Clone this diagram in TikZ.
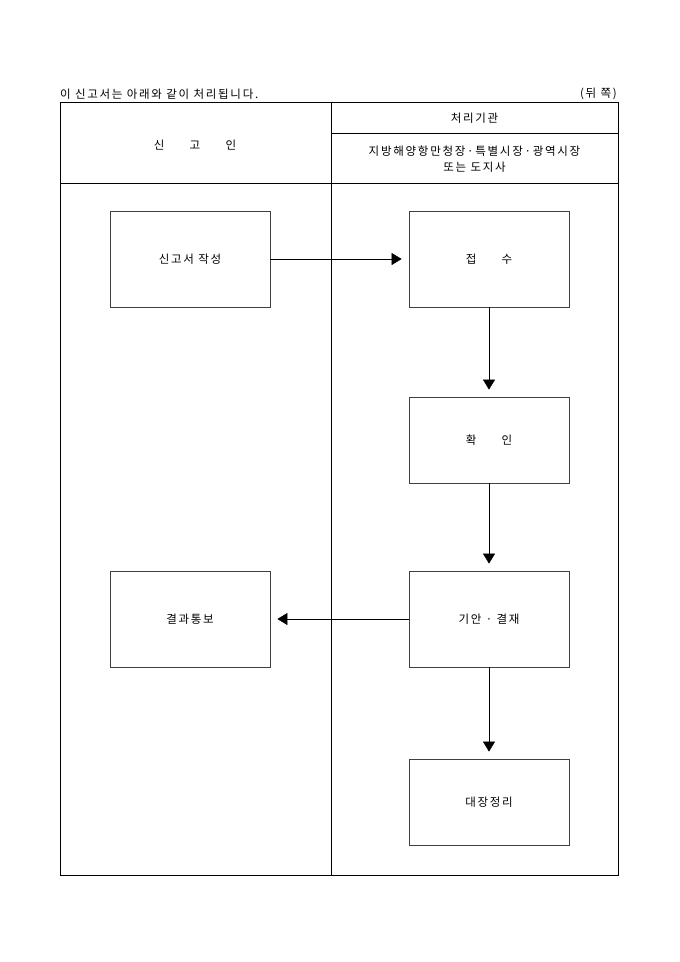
\documentclass[tikz,border=0pt]{standalone}
\usepackage{fontspec}
\setmainfont{Noto Sans CJK KR}[LetterSpace=15]
\usetikzlibrary{arrows.meta}

\begin{document}
\begin{tikzpicture}[x=1pt, y=-1pt,
  line/.style={>={Triangle[length=10pt,width=12pt]}, shorten >=7pt},
  stepbox/.style={draw=black!75, line width=0.8pt, minimum width=160pt, minimum height=96pt, inner sep=0pt},
  txt/.style={font=\fontsize{11.5}{13.5}\selectfont, inner sep=0pt}]
\useasboundingbox (0, 0) rectangle (680, 962);

% table frame
\draw[line width=0.8pt] (60, 102) rectangle (618, 875);
\draw[line width=0.7pt] (331, 102) -- (331, 875);
\draw[line width=0.7pt] (60, 183) -- (618, 183);
\draw[line width=0.7pt] (331, 133) -- (618, 133);

\node[txt, anchor=west] (title) at (60, 94) {이 신고서는 아래와 같이 처리됩니다.};
\node[txt, anchor=east] (page) at (617, 94) {(뒤 쪽)};

\node[txt] (applicant) at (195, 145) {신\hspace{2.2em}고\hspace{2.2em}인};
\node[txt] (agency) at (474.5, 118) {처리기관};
\node[txt, align=center] (office) at (474.5, 159) {지방해양항만청장·특별시장·광역시장\\[3pt]또는 도지사};

% boxes
\node[stepbox, txt] (write) at (190, 259) {신고서 작성};
\node[stepbox, txt] (receive) at (489, 259) {접\hspace{2.2em}수};
\node[stepbox, txt, minimum height=86pt] (check) at (489, 440) {확\hspace{2.2em}인};
\node[stepbox, txt] (approve) at (489, 619) {기안 · 결재};
\node[stepbox, txt] (notify) at (190, 619) {결과통보};
\node[stepbox, txt, minimum height=86pt] (ledger) at (489, 802) {대장정리};

\draw[->, line] (write) -- (receive);
\draw[->, line] (receive) -- (check);
\draw[->, line] (check) -- (approve);
\draw[->, line] (approve) -- (notify);
\draw[->, line] (approve) -- (ledger);
\end{tikzpicture}
\end{document}
